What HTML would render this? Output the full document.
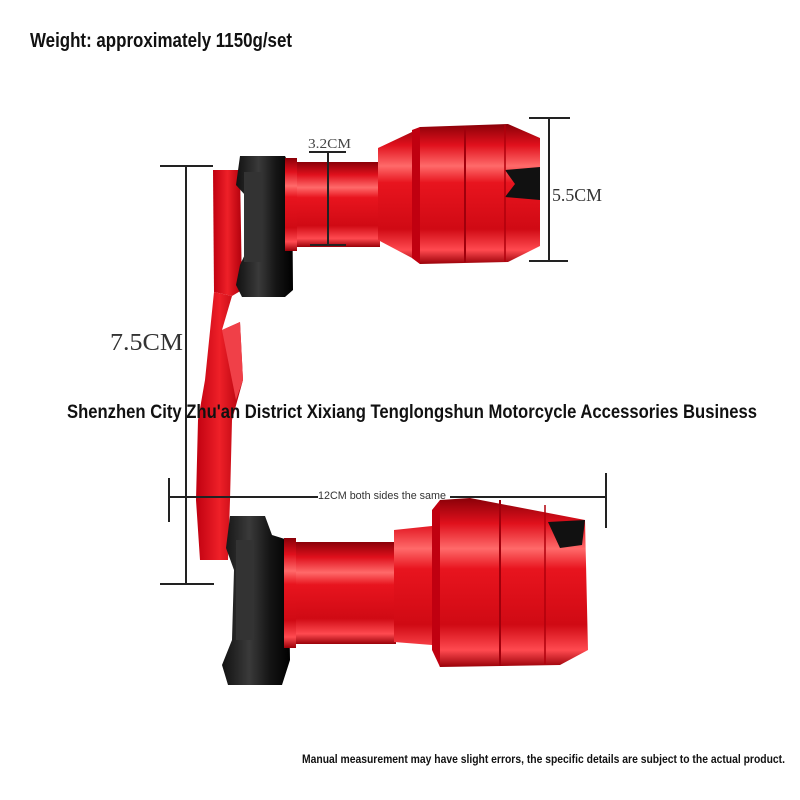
<!DOCTYPE html>
<html><head><meta charset="utf-8"><style>
html,body{margin:0;padding:0;background:#fff;width:800px;height:800px;overflow:hidden}
svg{display:block}
</style></head><body>
<svg width="800" height="800" viewBox="0 0 800 800" xmlns="http://www.w3.org/2000/svg">
<defs>
<linearGradient id="rv" x1="0" y1="0" x2="0" y2="1">
<stop offset="0" stop-color="#8a0008"/><stop offset="0.15" stop-color="#e0101c"/><stop offset="0.3" stop-color="#ff6a6a"/><stop offset="0.42" stop-color="#e8141e"/><stop offset="0.75" stop-color="#d00a14"/><stop offset="0.9" stop-color="#ff4a50"/><stop offset="1" stop-color="#9a0008"/>
</linearGradient>
<linearGradient id="bk" x1="0" y1="0" x2="1" y2="0">
<stop offset="0" stop-color="#111"/><stop offset="0.4" stop-color="#3a3a3a"/><stop offset="0.7" stop-color="#151515"/><stop offset="1" stop-color="#000"/>
</linearGradient>
<linearGradient id="rh" x1="0" y1="0" x2="1" y2="0">
<stop offset="0" stop-color="#c00010"/><stop offset="0.5" stop-color="#ee2028"/><stop offset="1" stop-color="#b0000c"/>
</linearGradient>
</defs>

<text x="30" y="47" font-family="Liberation Sans, sans-serif" font-weight="bold" font-size="20" textLength="262" lengthAdjust="spacingAndGlyphs" fill="#111">Weight: approximately 1150g/set</text>

<!-- bracket -->
<path d="M213 170 L240 170 L242 290 L232 296 L214 292 Z" fill="url(#rh)"/>
<path d="M214 292 L232 296 L222 330 L240 322 L243 380 L232 420 L230 500 L228 560 L200 560 L196 500 L198 420 L205 380 Z" fill="url(#rh)"/>
<path d="M222 330 L240 322 L243 380 L236 400 Z" fill="#f04048"/>

<!-- upper black mount -->
<path d="M240 156 L285 156 L292 170 L293 290 L285 297 L242 297 L236 285 L240 265 L247 250 L245 195 L236 185 Z" fill="url(#bk)"/>
<rect x="244" y="172" width="18" height="90" fill="#333"/>
<!-- upper small cylinder -->
<rect x="285" y="162" width="95" height="85" fill="url(#rv)"/>
<rect x="285" y="158" width="12" height="93" fill="url(#rv)"/>
<!-- upper big -->
<path d="M378 148 L412 132 L420 127 L508 124 L540 138 L540 246 L508 262 L420 264 L412 258 L378 240 Z" fill="url(#rv)"/>
<path d="M412 130 L420 127 L420 264 L412 258 Z" fill="#c00010"/>
<path d="M505 170 L540 167 L540 200 L505 197 L515 184 Z" fill="#111"/>
<line x1="465" y1="126" x2="465" y2="262" stroke="#a0000c" stroke-width="2"/>
<line x1="505" y1="125" x2="505" y2="262" stroke="#b0000c" stroke-width="1.5"/>

<!-- lower black mount -->
<path d="M230 516 L265 516 L272 535 L288 540 L290 660 L282 685 L228 685 L222 665 L232 640 L234 570 L226 548 Z" fill="url(#bk)"/>
<rect x="236" y="540" width="18" height="100" fill="#333"/>
<!-- lower small cylinder -->
<rect x="284" y="542" width="112" height="102" fill="url(#rv)"/>
<rect x="284" y="538" width="12" height="110" fill="url(#rv)"/>
<!-- lower big -->
<path d="M394 530 L432 526 L440 500 L470 498 L585 520 L588 650 L560 665 L440 667 L432 645 L394 642 Z" fill="url(#rv)"/>
<path d="M432 510 L440 500 L440 667 L432 650 Z" fill="#c00010"/>
<path d="M548 522 L585 520 L582 545 L560 548 Z" fill="#111"/>
<line x1="500" y1="500" x2="500" y2="666" stroke="#a0000c" stroke-width="2"/>
<line x1="545" y1="505" x2="545" y2="664" stroke="#b0000c" stroke-width="1.5"/>

<!-- dimension lines -->
<g stroke="#222" stroke-width="2" fill="none">
<line x1="186" y1="166" x2="186" y2="584"/>
<line x1="160" y1="166" x2="213" y2="166"/>
<line x1="160" y1="584" x2="214" y2="584"/>
<line x1="168" y1="497" x2="318" y2="497"/>
<line x1="450" y1="497" x2="605" y2="497"/>
<line x1="169" y1="478" x2="169" y2="522"/>
<line x1="606" y1="473" x2="606" y2="528"/>
<line x1="328" y1="152" x2="328" y2="245"/>
<line x1="309" y1="152" x2="346" y2="152"/>
<line x1="310" y1="245" x2="346" y2="245"/>
<line x1="549" y1="118" x2="549" y2="261"/>
<line x1="529" y1="118" x2="570" y2="118"/>
<line x1="529" y1="261" x2="568" y2="261"/>
</g>
<text x="110" y="350" font-family="Liberation Serif, serif" font-size="24" fill="#333" textLength="73" lengthAdjust="spacingAndGlyphs">7.5CM</text>
<text x="308" y="148" font-family="Liberation Serif, serif" font-size="14" fill="#444" textLength="43" lengthAdjust="spacingAndGlyphs">3.2CM</text>
<text x="552" y="201" font-family="Liberation Serif, serif" font-size="18" fill="#333" textLength="50" lengthAdjust="spacingAndGlyphs">5.5CM</text>
<text x="318" y="499" font-family="Liberation Sans, sans-serif" font-size="11" fill="#333" textLength="128" lengthAdjust="spacingAndGlyphs">12CM both sides the same</text>

<text x="67" y="418" font-family="Liberation Sans, sans-serif" font-weight="bold" font-size="19" fill="#111" textLength="690" lengthAdjust="spacingAndGlyphs">Shenzhen City Zhu'an District Xixiang Tenglongshun Motorcycle Accessories Business</text>
<text x="302" y="763" font-family="Liberation Sans, sans-serif" font-weight="bold" font-size="12" fill="#111" textLength="483" lengthAdjust="spacingAndGlyphs">Manual measurement may have slight errors, the specific details are subject to the actual product.</text>
</svg>
</body></html>
